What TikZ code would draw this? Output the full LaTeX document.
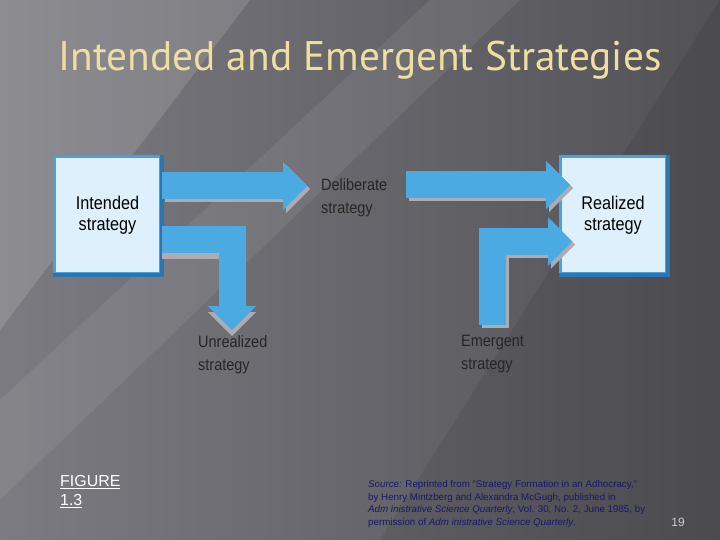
\documentclass[tikz,border=0pt]{standalone}
\usepackage{fontspec}
\setmainfont{Liberation Sans}
\newfontfamily\titlefont{PT Sans}
\newfontfamily\narrowfont[FakeStretch=0.88]{Liberation Sans}
\usetikzlibrary{arrows.meta,positioning}

\definecolor{slidedark}{RGB}{82,81,86}
\definecolor{slidelight}{RGB}{124,123,129}
\definecolor{titletan}{RGB}{240,222,160}
\definecolor{boxfill}{RGB}{222,240,251}
\definecolor{boxedge}{RGB}{74,160,218}
\definecolor{boxdark}{RGB}{44,118,176}
\definecolor{arrowblue}{RGB}{76,170,226}
\definecolor{arrowshade}{RGB}{172,172,178}
\definecolor{sourcenavy}{RGB}{24,24,110}

\begin{document}
\begin{tikzpicture}[x=1bp,y=-1bp]
  \tikzset{
    strat box/.style={draw=boxedge,fill=boxfill,line width=3bp,minimum width=106bp,
      minimum height=117bp,inner sep=0,align=center,font=\narrowfont\fontsize{18.5}{21.5}\selectfont},
    strat label/.style={align=left,inner sep=0,text=black!85,font=\narrowfont\fontsize{16.5}{23}\selectfont},
    block arrow/.style={draw=arrowblue,line width=27bp,
      -{Triangle[width=48bp,length=24bp,line width=0.1bp]}},
    block shadow/.style={block arrow,draw=arrowshade,transform canvas={xshift=3bp,yshift=-3bp}}
  }
  % slide background
  \shade[left color=slidelight,right color=slidedark] (0,0) rectangle (720,540);
  \fill[white,opacity=0.13] (0,0) -- (250,0) -- (0,330) -- cycle;
  \fill[white,opacity=0.07] (0,400) -- (430,0) -- (520,0) -- (0,500) -- cycle;
  \fill[black,opacity=0.08] (720,0) -- (720,540) -- (380,540) -- cycle;
  \useasboundingbox (0,0) rectangle (720,540);

  % title
  \node[text=titletan,font=\titlefont\fontsize{41.5}{44}\selectfont] (title) at (360,60) {Intended and Emergent Strategies};

  % boxes and labels
  \node[strat box] (intended) at (107.5,215) {Intended\\strategy};
  \node[strat box] (realized) at (613,215) {Realized\\strategy};
  \draw[boxdark,line width=4bp] (intended.north east) -- (intended.south east) -- (intended.south west);
  \draw[boxdark,line width=4bp] (realized.north east) -- (realized.south east) -- (realized.south west);

  \node[strat label,anchor=west] (deliberate) at (321,198) {Deliberate\\strategy};
  \node[strat label,anchor=north west] (unrealized) at (198,335) {Unrealized\\strategy};
  \node[strat label,anchor=north west] (emergent) at (461,335) {Emergent\\strategy};

  \coordinate (d1) at (307,186);
  \coordinate (d2) at (406,185);
  \coordinate (u1) at (232,330);
  \coordinate (e1) at (492,325);
  \coordinate (e2) at (572,241.5);

  % shadows
  \draw[block shadow] (intended.east |- d1) -- (d1);
  \draw[block shadow] (d2) -- ([xshift=11.5bp]realized.west |- d2);
  \draw[block shadow,transform canvas={xshift=-3bp,yshift=-3bp}] (intended.east |- 0,239.5) -| (u1);
  \draw[block shadow] (e1) |- (e2);
  % arrows
  \draw[block arrow] (intended.east |- d1) -- (d1);
  \draw[block arrow] (d2) -- ([xshift=11.5bp]realized.west |- d2);
  \draw[block arrow] (intended.east |- 0,239.5) -| (u1);
  \draw[block arrow] (e1) |- (e2);

  % footer
  \node[anchor=north west,align=left,inner sep=0,text=white,font=\fontsize{16}{19}\selectfont]
    (figure) at (60,475) {\underline{FIGURE}\\\underline{1.3}};
  \node[anchor=north west,align=left,inner sep=0,text=sourcenavy,font=\fontsize{9.8}{12.8}\selectfont]
    (source) at (368,480) {\textit{Source:} Reprinted from ``Strategy Formation in an Adhocracy,''\\
    by Henry Mintzberg and Alexandra McGugh, published in\\
    \textit{Adm inistrative Science Quarterly}, Vol. 30, No. 2, June 1985, by\\
    permission of \textit{Adm inistrative Science Quarterly}.};
  \node[text=black!20,font=\fontsize{12}{14}\selectfont] (page) at (678,522) {19};
\end{tikzpicture}
\end{document}
